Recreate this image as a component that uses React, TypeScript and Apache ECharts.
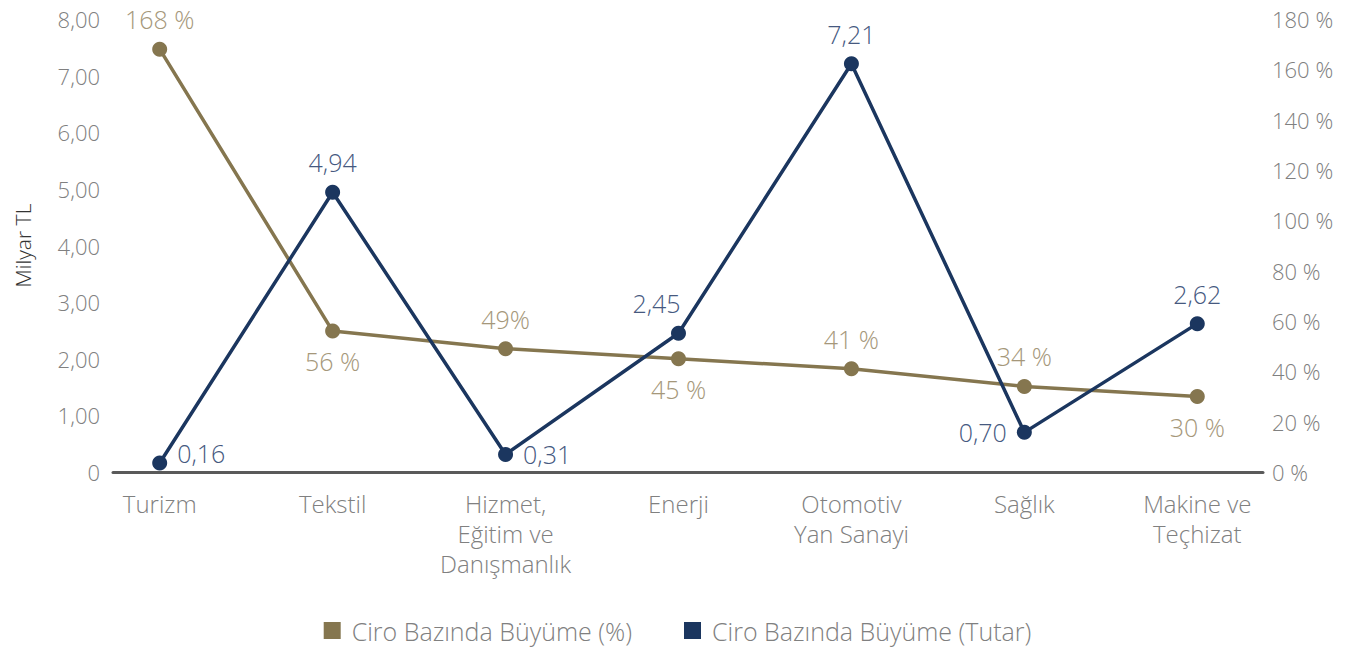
import React, { useEffect, useRef } from "react";
import * as echarts from "echarts";

const categories = [
  "Turizm",
  "Tekstil",
  "Hizmet,\nEğitim ve\nDanışmanlık",
  "Enerji",
  "Otomotiv\nYan Sanayi",
  "Sağlık",
  "Makine ve\nTeçhizat",
];
const percentGrowth = [168, 56, 49, 45, 41, 34, 30];
const percentSuffix = [" %", " %", "%", " %", " %", " %", " %"];
const amountGrowth = [0.16, 4.94, 0.31, 2.45, 7.21, 0.7, 2.62];
const percentLabelPos = ["top", "bottom", "top", "bottom", "top", "top", "bottom"];
const amountLabelPos = ["right", "top", "right", "top", "top", "left", "top"];
const amountLabelOffset = [[0, -10], [0, 0], [0, 0], [-22, 0], [0, 0], [0, 0], [0, 0]];
const leftTicks = [0, 1, 2, 3, 4, 5, 6, 7, 8];
const rightTicks = [0, 20, 40, 60, 80, 100, 120, 140, 160, 180];
const seriesNames = ["Ciro Bazında Büyüme (%)", "Ciro Bazında Büyüme (Tutar)"];

const GOLD = "#85764f";
const GOLD_LABEL = "#a5977a";
const BLUE = "#1b365f";
const BLUE_LABEL = "#46597f";
const GRAY = "#808080";
const FONT = "'Open Sans', sans-serif";

const fmtTL = (v: number) => v.toFixed(2).replace(".", ",");

export default function App() {
  const ref = useRef<HTMLDivElement>(null);
  useEffect(() => {
    if (!ref.current) return;
    const chart = echarts.init(ref.current, null, { renderer: "svg" });
    chart.setOption({
      animation: false,
      textStyle: { fontFamily: FONT, fontWeight: 300 },
      grid: { left: 113, right: 92, top: 19, bottom: 180, containLabel: false, outerBoundsMode: "none" },
      legend: {
        bottom: 4,
        left: "center",
        icon: "rect",
        itemWidth: 17,
        itemHeight: 17,
        itemGap: 52,
        textStyle: { fontSize: 25, color: GRAY, fontFamily: FONT, fontWeight: 300, padding: [0, 0, 0, 6] },
        data: seriesNames,
      },
      xAxis: {
        type: "value",
        min: -0.27,
        max: 6.38,
        splitLine: { show: false },
        axisTick: { show: false },
        axisLine: { show: true, lineStyle: { color: "#5a5a5a", width: 3 } },
        axisLabel: {
          customValues: categories.map((_, i) => i),
          formatter: (v: number) => categories[Math.round(v)] ?? "",
          fontSize: 24,
          lineHeight: 30,
          color: GRAY,
          margin: 16,
          fontFamily: FONT,
          fontWeight: 300,
          verticalAlign: "top",
        },
      },
      yAxis: [
        {
          type: "value",
          min: leftTicks[0],
          max: leftTicks[leftTicks.length - 1],
          interval: 1,
          name: "Milyar TL",
          nameLocation: "middle",
          nameGap: 80,
          nameRotate: 90,
          nameTextStyle: { fontSize: 21, color: "#333", fontFamily: FONT, fontWeight: 300 },
          splitLine: { show: false },
          axisLine: { show: false },
          axisTick: { show: false },
          axisLabel: {
            formatter: (v: number) => (v === 0 ? "0" : fmtTL(v)),
            fontSize: 22,
            color: GRAY,
            margin: 13,
            fontFamily: FONT,
            fontWeight: 300,
          },
        },
        {
          type: "value",
          position: "right",
          min: rightTicks[0],
          max: rightTicks[rightTicks.length - 1],
          interval: 20,
          splitLine: { show: false },
          axisLine: { show: false },
          axisTick: { show: false },
          axisLabel: {
            formatter: (v: number) => `${v} %`,
            fontSize: 22,
            color: GRAY,
            margin: 9,
            fontFamily: FONT,
            fontWeight: 300,
          },
        },
      ],
      series: [
        {
          name: seriesNames[0],
          type: "line",
          yAxisIndex: 1,
          symbol: "circle",
          symbolSize: 15,
          itemStyle: { color: GOLD },
          lineStyle: { color: GOLD, width: 3.5 },
          data: percentGrowth.map((v, i) => ({
            value: [i, v],
            label: {
              show: true,
              position: percentLabelPos[i],
              distance: 10,
              formatter: () => `${v}${percentSuffix[i]}`,
            },
          })),
          label: { fontSize: 25, color: GOLD_LABEL, fontFamily: FONT, fontWeight: 300 },
          z: 2,
        },
        {
          name: seriesNames[1],
          type: "line",
          yAxisIndex: 0,
          symbol: "circle",
          symbolSize: 15,
          itemStyle: { color: BLUE },
          lineStyle: { color: BLUE, width: 3.5 },
          data: amountGrowth.map((v, i) => ({
            value: [i, v],
            label: {
              show: true,
              position: amountLabelPos[i],
              distance: 10,
              offset: amountLabelOffset[i],
              formatter: () => fmtTL(v),
            },
          })),
          label: { fontSize: 25, color: BLUE_LABEL, fontFamily: FONT, fontWeight: 300 },
          z: 3,
        },
      ],
    });
    return () => chart.dispose();
  }, []);
  return (
    <div
      ref={ref}
      style={{ position: "fixed", left: 0, top: 0, width: 1355, height: 652, background: "#fff" }}
    />
  );
}
